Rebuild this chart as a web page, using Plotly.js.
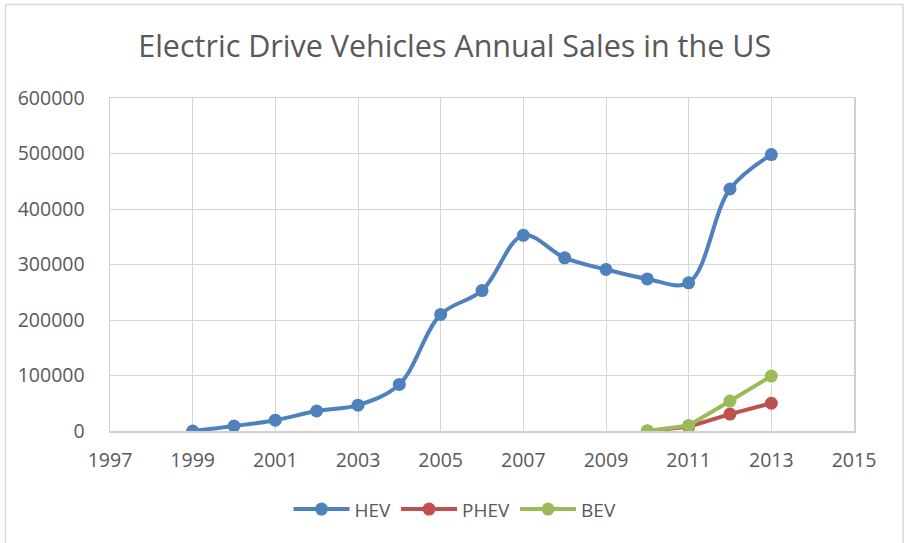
<!DOCTYPE html>
<html>
<head>
<meta charset="utf-8">
<script src="https://cdn.plot.ly/plotly-3.0.1.min.js"></script>
<style>
html,body{margin:0;padding:0;background:#fff;}
#chart{width:904px;height:543px;}
</style>
</head>
<body>
<div id="chart"></div>
<script>
const years = [1999,2000,2001,2002,2003,2004,2005,2006,2007,2008,2009,2010,2011,2012,2013];
const hev = [0,9000,19500,36000,46500,84000,210000,253000,352500,312000,291000,274000,267000,436000,498000];
const plugYears = [2010,2011,2012,2013];
const phev = [0,7700,30500,50000];
const bev = [0,10000,54000,99000];
const xTicks = [1997,1999,2001,2003,2005,2007,2009,2011,2013,2015];
const yTicks = [0,100000,200000,300000,400000,500000,600000];

const grey = '#595959';
const font = "'Open Sans', sans-serif";

function series(name, x, y, color, shape){
  return {
    type:'scatter', mode:'lines+markers', name:name, x:x, y:y,
    line:{color:color, width:4, shape:shape, smoothing:1},
    marker:{color:color, size:13}
  };
}

const data = [
  series('HEV', years, hev, '#4f81bd', 'spline'),
  series('PHEV', plugYears, phev, '#c0504d', 'linear'),
  series('BEV', plugYears, bev, '#9bbb59', 'linear')
];

const layout = {
  width:904, height:543,
  margin:{l:110, r:50, t:98, b:112},
  paper_bgcolor:'#fff', plot_bgcolor:'#fff',
  font:{family:font, color:grey, size:19},
  title:{text:'Electric Drive Vehicles Annual Sales in the US', font:{family:font, size:30.5, color:grey},
         x:0.503, xanchor:'center', xref:'container', y:0.915, yanchor:'middle', yref:'container'},
  xaxis:{range:[1997,2015], tickvals:xTicks, ticktext:xTicks.map(String),
         showgrid:true, gridcolor:'#d6d6d6', gridwidth:1, zeroline:false,
         showline:true, mirror:true, linecolor:'#d0d0d0', linewidth:1.5,
         ticks:'', ticklabelstandoff:11, tickfont:{size:19.5, color:grey}},
  yaxis:{range:[0,600000], tickvals:yTicks, ticktext:yTicks.map(String),
         showgrid:true, gridcolor:'#d6d6d6', gridwidth:1, zeroline:false,
         showline:true, mirror:true, linecolor:'#d0d0d0', linewidth:1.5,
         ticks:'', ticklabelstandoff:20, tickfont:{size:19.5, color:grey}},
  legend:{orientation:'h', x:0.4637, xanchor:'center', y:-0.235, yanchor:'middle',
          font:{size:19, color:grey}, itemwidth:56, tracegroupgap:0},
  shapes:[
    {type:'rect', xref:'paper', yref:'paper', x0:-0.1405, x1:1.0659, y0:-0.4, y1:1.2808,
     line:{color:'#d9d9d9', width:1.5}, fillcolor:'rgba(0,0,0,0)', layer:'below'}
  ]
};

Plotly.newPlot('chart', data, layout, {displayModeBar:false, staticPlot:true});
</script>
</body>
</html>
